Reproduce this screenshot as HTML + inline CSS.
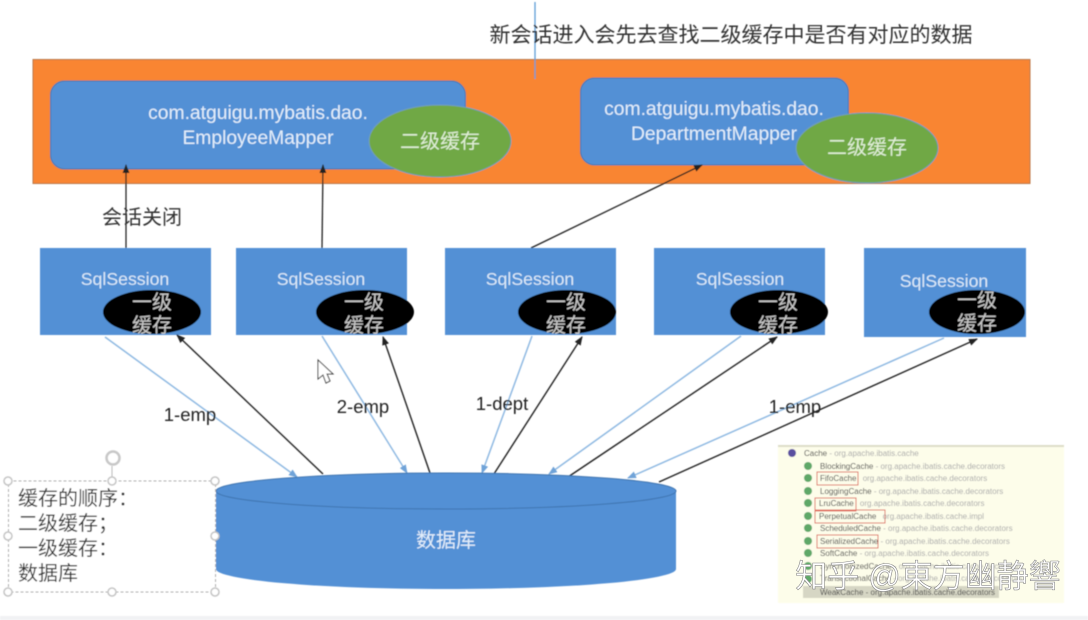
<!DOCTYPE html>
<html><head><meta charset="utf-8"><style>
html,body{margin:0;padding:0;background:#fff;width:1088px;height:620px;overflow:hidden}
svg{display:block}
text{font-family:"Liberation Sans","Noto Sans CJK SC",sans-serif}
</style></head><body>
<svg width="1088" height="620" viewBox="0 0 1088 620" xmlns="http://www.w3.org/2000/svg">
<defs>
<marker id="k" markerWidth="10" markerHeight="8" refX="8" refY="3.500" orient="auto" markerUnits="userSpaceOnUse"><path d="M0 0L9 3.500L0 7Z" fill="#222"/></marker>
<marker id="b" markerWidth="10" markerHeight="8" refX="8" refY="3.500" orient="auto" markerUnits="userSpaceOnUse"><path d="M0 0L9 3.500L0 7Z" fill="#6fa3d8"/></marker>
<filter id="s" x="-5%" y="-5%" width="110%" height="110%"><feGaussianBlur stdDeviation="0.55"/></filter>
</defs>
<rect x="0" y="0" width="1088" height="620" fill="#fff"/>
<g filter="url(#s)">
<rect x="0" y="616" width="1088" height="4" fill="#f1f2f4"/>
<rect x="33" y="59.500" width="997" height="124" fill="#f98530" stroke="#b9794a"/>
<line x1="535" y1="2" x2="535" y2="79" stroke="#5b9bd5" stroke-width="1.300"/>
<text x="731" y="42" font-size="21" fill="#333" text-anchor="middle">新会话进入会先去查找二级缓存中是否有对应的数据</text>

<rect x="50.500" y="81" width="415" height="88" rx="14" fill="#5390d5" stroke="#4475ab"/>
<text x="258" y="119" font-size="19.300" fill="#e3eefa" text-anchor="middle">com.atguigu.mybatis.dao.</text>
<text x="258" y="144" font-size="19.300" fill="#e3eefa" text-anchor="middle">EmployeeMapper</text>
<rect x="580.500" y="78" width="268" height="87" rx="14" fill="#5390d5" stroke="#4475ab"/>
<text x="714" y="115" font-size="19.300" fill="#e3eefa" text-anchor="middle">com.atguigu.mybatis.dao.</text>
<text x="714" y="140" font-size="19.300" fill="#e3eefa" text-anchor="middle">DepartmentMapper</text>
<ellipse cx="440" cy="141" rx="71" ry="36" fill="#70a845" stroke="#6f9cc0" stroke-width="1"/>
<text x="440" y="148" font-size="20" fill="#dfeed5" text-anchor="middle">二级缓存</text>
<ellipse cx="867" cy="148" rx="71" ry="35" fill="#70a845" stroke="#6f9cc0" stroke-width="1"/>
<text x="867" y="154" font-size="20" fill="#dfeed5" text-anchor="middle">二级缓存</text>

<line x1="126" y1="248" x2="126" y2="165" stroke="#222" stroke-width="1.300" marker-end="url(#k)"/>
<line x1="322" y1="248" x2="323" y2="165" stroke="#222" stroke-width="1.300" marker-end="url(#k)"/>
<line x1="531" y1="248" x2="702" y2="165" stroke="#222" stroke-width="1.300" marker-end="url(#k)"/>
<text x="142" y="224" font-size="20" fill="#333" text-anchor="middle">会话关闭</text>

<rect x="40" y="248" width="171" height="87" fill="#5390d5"/>
<rect x="236" y="248" width="171" height="87" fill="#5390d5"/>
<rect x="445" y="248" width="171" height="87" fill="#5390d5"/>
<rect x="654" y="248" width="171" height="87" fill="#5390d5"/>
<rect x="864" y="248" width="162" height="89" fill="#5390d5"/>
<g font-size="17.700" fill="#dbe9f8" text-anchor="middle">
<text x="125" y="285">SqlSession</text>
<text x="321" y="285">SqlSession</text>
<text x="530" y="285">SqlSession</text>
<text x="740" y="285">SqlSession</text>
<text x="944" y="287">SqlSession</text>
</g>
<ellipse cx="152" cy="312" rx="49" ry="22" fill="#000"/>
<ellipse cx="365" cy="312" rx="49" ry="22" fill="#000"/>
<ellipse cx="567" cy="312" rx="49" ry="22" fill="#000"/>
<ellipse cx="779" cy="312" rx="49" ry="22" fill="#000"/>
<ellipse cx="977" cy="312" rx="48" ry="22" fill="#000"/>
<g font-size="20" fill="#c8c8c8" text-anchor="middle">
<text x="152" y="309">一级</text><text x="152" y="332">缓存</text>
<text x="364" y="309">一级</text><text x="364" y="332">缓存</text>
<text x="566" y="309">一级</text><text x="566" y="332">缓存</text>
<text x="778" y="309">一级</text><text x="778" y="332">缓存</text>
<text x="977" y="307">一级</text><text x="977" y="330">缓存</text>
</g>

<g stroke="#8fb9e2" stroke-width="1.500">
<line x1="105" y1="337" x2="297" y2="477" marker-end="url(#b)"/>
<line x1="322" y1="336" x2="407" y2="473" marker-end="url(#b)"/>
<line x1="532" y1="336" x2="482" y2="473" marker-end="url(#b)"/>
<line x1="741" y1="336" x2="549" y2="474" marker-end="url(#b)"/>
<line x1="944" y1="338" x2="628" y2="478" marker-end="url(#b)"/>
</g>
<g stroke="#222" stroke-width="1.400">
<line x1="323" y1="474" x2="177" y2="335" marker-end="url(#k)"/>
<line x1="430" y1="473" x2="383" y2="337" marker-end="url(#k)"/>
<line x1="492" y1="477" x2="582" y2="337" marker-end="url(#k)"/>
<line x1="568" y1="477" x2="777" y2="337" marker-end="url(#k)"/>
<line x1="659" y1="482" x2="977" y2="339" marker-end="url(#k)"/>
</g>
<g font-size="18.500" fill="#222" text-anchor="middle">
<text x="190" y="421">1-emp</text>
<text x="363" y="413">2-emp</text>
<text x="502" y="410">1-dept</text>
<text x="795" y="413">1-emp</text>
</g>

<path d="M216 491V569A230 20 0 0 0 676 569V491Z" fill="#5390d5"/>
<ellipse cx="446" cy="491" rx="230" ry="18" fill="#5390d5" stroke="#3f75b0"/>
<text x="446" y="547" font-size="20" fill="#e3eefa" text-anchor="middle">数据库</text>

<!-- selected text box -->
<rect x="8.500" y="481" width="207" height="111" fill="#fff" stroke="#aaa" stroke-dasharray="3 2"/>
<line x1="112" y1="466" x2="112" y2="481" stroke="#bbb"/>
<circle cx="113" cy="458" r="6.500" fill="none" stroke="#c8c8c8" stroke-width="2.500"/>
<g fill="#fff" stroke="#c4c4c4" stroke-width="1.500">
<circle cx="8" cy="481" r="4"/><circle cx="112" cy="481" r="4"/><circle cx="215" cy="481" r="4"/>
<circle cx="8" cy="536" r="4"/><circle cx="215" cy="536" r="4"/>
<circle cx="8" cy="592" r="4"/><circle cx="112" cy="592" r="4"/><circle cx="215" cy="592" r="4"/>
</g>
<g font-size="20" fill="#333">
<text x="18" y="505">缓存的顺序：</text>
<text x="18" y="530">二级缓存；</text>
<text x="18" y="555">一级缓存：</text>
<text x="18" y="580">数据库</text>
</g>

<!-- cursor -->
<path d="M318 360V379L323 375L326 383L330 381L327 374H333Z" fill="#fff" stroke="#444" stroke-width="1"/>

<!-- cache screenshot -->
<rect x="778" y="445" width="286" height="158" fill="#fdfdea"/>
<line x1="778" y1="446" x2="1064" y2="446" stroke="#ddddc8" stroke-width="2"/>
<circle cx="792" cy="453" r="4" fill="#5a4fa0"/>
<g fill="#5fa868">
<circle cx="808" cy="466" r="4"/><circle cx="808" cy="478" r="4"/><circle cx="808" cy="491" r="4"/><circle cx="808" cy="503" r="4"/><circle cx="808" cy="516" r="4"/><circle cx="808" cy="528" r="4"/><circle cx="808" cy="541" r="4"/><circle cx="808" cy="553" r="4"/><circle cx="808" cy="566" r="4"/><circle cx="808" cy="579" r="4"/><circle cx="808" cy="591" r="4"/>
</g>
<rect x="803" y="586" width="196" height="12" fill="#d6d6c4"/>
<g fill="none" stroke="#e07060" stroke-width="1">
<rect x="817" y="472" width="41" height="13"/>
<rect x="815" y="498" width="41" height="13"/>
<rect x="815" y="510" width="70" height="13"/>
<rect x="817" y="535" width="61" height="13"/>
</g>
<g font-size="8" fill="#444">
<text x="804" y="456">Cache <tspan fill="#aaa">- org.apache.ibatis.cache</tspan></text>
<text x="820" y="469">BlockingCache <tspan fill="#aaa">- org.apache.ibatis.cache.decorators</tspan></text>
<text x="820" y="481">FifoCache <tspan fill="#aaa" dx="4">org.apache.ibatis.cache.decorators</tspan></text>
<text x="820" y="494">LoggingCache <tspan fill="#aaa">- org.apache.ibatis.cache.decorators</tspan></text>
<text x="819" y="506">LruCache <tspan fill="#aaa" dx="4">org.apache.ibatis.cache.decorators</tspan></text>
<text x="819" y="519">PerpetualCache <tspan fill="#aaa" dx="4">org.apache.ibatis.cache.impl</tspan></text>
<text x="820" y="531">ScheduledCache <tspan fill="#aaa">- org.apache.ibatis.cache.decorators</tspan></text>
<text x="820" y="544">SerializedCache <tspan fill="#aaa">- org.apache.ibatis.cache.decorators</tspan></text>
<text x="820" y="556">SoftCache <tspan fill="#aaa">- org.apache.ibatis.cache.decorators</tspan></text>
<text x="820" y="569">SynchronizedCache <tspan fill="#aaa">- org.apache.ibatis.cache.decorators</tspan></text>
<text x="820" y="581">TransactionalCache <tspan fill="#aaa">- org.apache.ibatis.cache.decorators</tspan></text>
<text x="820" y="595">WeakCache - org.apache.ibatis.cache.decorators</text>
</g>
</g>
<text x="928" y="587" font-size="32" fill="#fff" stroke="#8a8a8a" stroke-width=".6" text-anchor="middle" font-family="'Liberation Sans','Noto Sans CJK TC',sans-serif">知乎 @東方幽静響</text>
</svg>
</body></html>
